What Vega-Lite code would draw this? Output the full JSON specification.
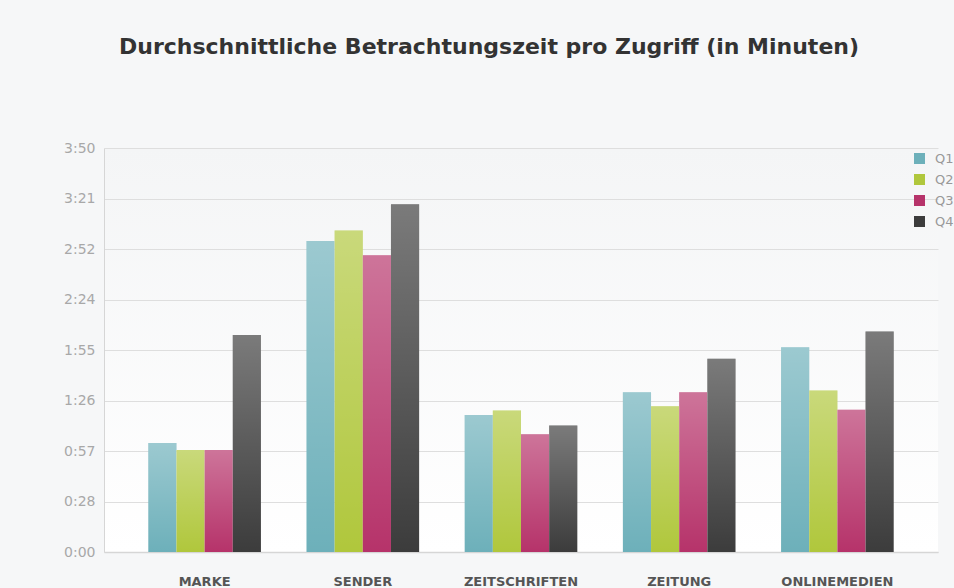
{
  "$schema": "https://vega.github.io/schema/vega-lite/v6.json",
  "width": 834,
  "height": 404,
  "autosize": {"type": "none"},
  "padding": {"left": 104, "top": 148, "right": 16, "bottom": 36},
  "background": "#f6f7f8",
  "title": {
    "text": "Durchschnittliche Betrachtungszeit pro Zugriff (in Minuten)",
    "font": "DejaVu Sans",
    "fontSize": 22,
    "fontWeight": "bold",
    "color": "#333333",
    "anchor": "middle",
    "dx": -32,
    "offset": 82
  },
  "config": {
    "view": {
      "stroke": null,
      "fill": {
        "gradient": "linear",
        "x1": 0, "y1": 0, "x2": 0, "y2": 1,
        "stops": [
          {"offset": 0, "color": "#f4f5f6"},
          {"offset": 1, "color": "#ffffff"}
        ]
      }
    }
  },
  "data": {
    "values": [
      {"medium": "MARKE", "quartal": "Q1", "sekunden": 62},
      {"medium": "MARKE", "quartal": "Q2", "sekunden": 58},
      {"medium": "MARKE", "quartal": "Q3", "sekunden": 58},
      {"medium": "MARKE", "quartal": "Q4", "sekunden": 123.5},
      {"medium": "SENDER", "quartal": "Q1", "sekunden": 177},
      {"medium": "SENDER", "quartal": "Q2", "sekunden": 183},
      {"medium": "SENDER", "quartal": "Q3", "sekunden": 169},
      {"medium": "SENDER", "quartal": "Q4", "sekunden": 198},
      {"medium": "ZEITSCHRIFTEN", "quartal": "Q1", "sekunden": 78},
      {"medium": "ZEITSCHRIFTEN", "quartal": "Q2", "sekunden": 80.5},
      {"medium": "ZEITSCHRIFTEN", "quartal": "Q3", "sekunden": 67},
      {"medium": "ZEITSCHRIFTEN", "quartal": "Q4", "sekunden": 72},
      {"medium": "ZEITUNG", "quartal": "Q1", "sekunden": 91},
      {"medium": "ZEITUNG", "quartal": "Q2", "sekunden": 83},
      {"medium": "ZEITUNG", "quartal": "Q3", "sekunden": 91},
      {"medium": "ZEITUNG", "quartal": "Q4", "sekunden": 110},
      {"medium": "ONLINEMEDIEN", "quartal": "Q1", "sekunden": 116.5},
      {"medium": "ONLINEMEDIEN", "quartal": "Q2", "sekunden": 92},
      {"medium": "ONLINEMEDIEN", "quartal": "Q3", "sekunden": 81},
      {"medium": "ONLINEMEDIEN", "quartal": "Q4", "sekunden": 125.5}
    ]
  },
  "encoding": {
    "x": {
      "field": "medium",
      "type": "nominal",
      "sort": null,
      "scale": {"paddingInner": 0.288, "paddingOuter": 0.28},
      "axis": {
        "title": null,
        "labelAngle": 0,
        "ticks": false,
        "labelPadding": 23,
        "labelFont": "DejaVu Sans",
        "labelFontSize": 13,
        "labelFontWeight": "bold",
        "labelColor": "#555555",
        "domainColor": "#d6d6d6",
        "domainWidth": 1.5
      }
    },
    "xOffset": {"field": "quartal", "type": "nominal", "scale": {"paddingInner": 0, "paddingOuter": 0}},
    "y": {
      "field": "sekunden",
      "type": "quantitative",
      "scale": {"domain": [0, 230], "nice": false},
      "axis": {
        "title": null,
        "values": [0, 28.75, 57.5, 86.25, 115, 143.75, 172.5, 201.25, 230],
        "labelExpr": "['0:00','0:28','0:57','1:26','1:55','2:24','2:52','3:21','3:50'][round(datum.value / 28.75)]",
        "ticks": false,
        "labelPadding": 9,
        "labelFont": "DejaVu Sans",
        "labelFontSize": 14,
        "labelColor": "#a8a8a8",
        "domainColor": "#d6d6d6",
        "gridColor": "#dedede",
        "gridWidth": 1
      }
    }
  },
  "layer": [
    {
      "mark": {"type": "bar"},
      "encoding": {
        "color": {
          "field": "quartal",
          "type": "nominal",
          "scale": {"domain": ["Q1", "Q2", "Q3", "Q4"], "range": ["#6db0ba", "#b0c73c", "#b6336a", "#3c3c3c"]},
          "legend": {
            "title": null,
            "orient": "none",
            "legendX": 809,
            "legendY": 4,
            "padding": 0,
            "symbolType": "square",
            "symbolSize": 121,
            "symbolStrokeWidth": 0,
            "labelFont": "DejaVu Sans",
            "labelFontSize": 13,
            "labelColor": "#999999",
            "labelOffset": 9,
            "rowPadding": 7
          }
        }
      }
    },
    {
      "mark": {
        "type": "bar",
        "fill": {
          "gradient": "linear",
          "x1": 0, "y1": 0, "x2": 0, "y2": 1,
          "stops": [
            {"offset": 0, "color": "rgba(255,255,255,0.32)"},
            {"offset": 1, "color": "rgba(255,255,255,0)"}
          ]
        }
      },
      "encoding": {"detail": {"field": "quartal", "type": "nominal"}}
    }
  ]
}
